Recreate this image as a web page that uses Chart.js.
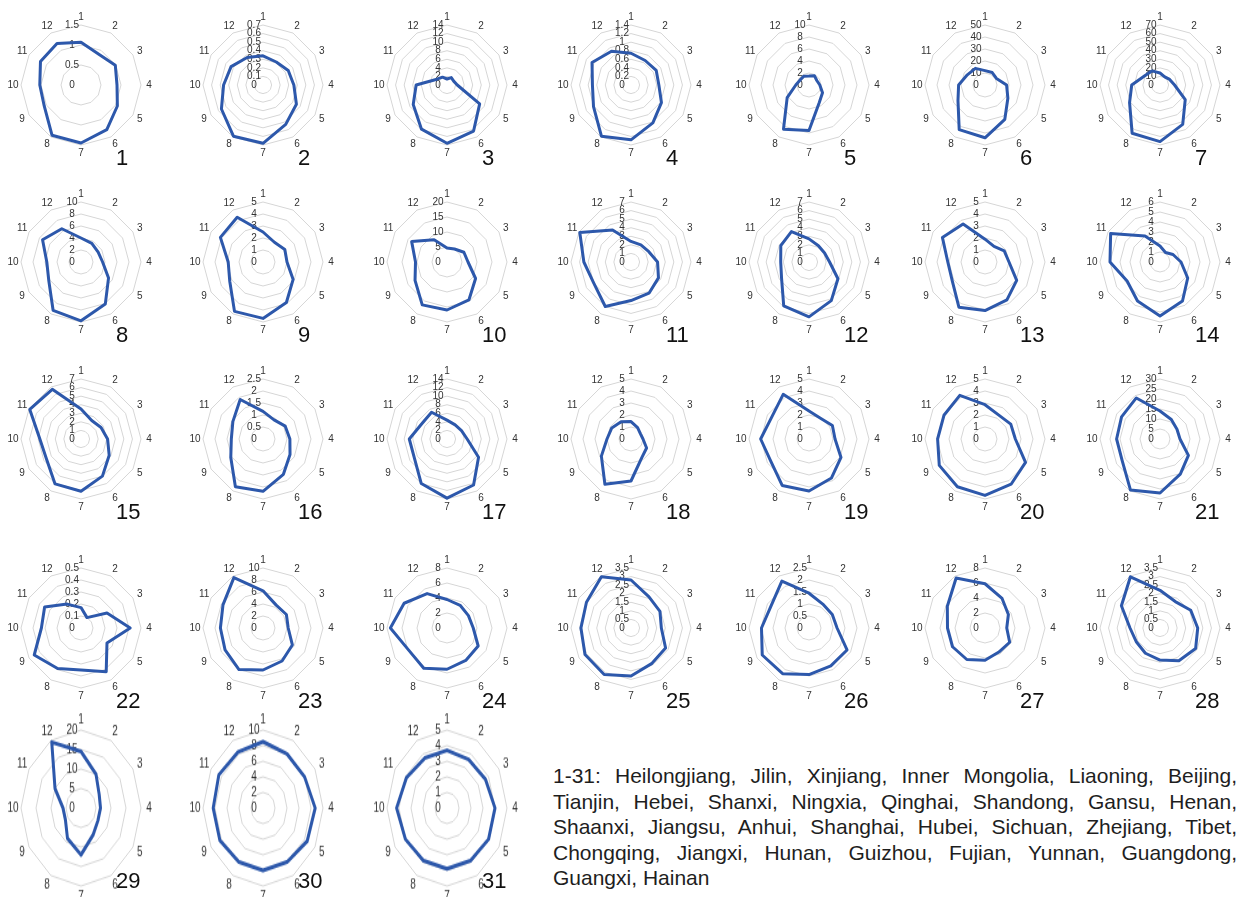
<!DOCTYPE html>
<html>
<head>
<meta charset="utf-8">
<script src="https://cdn.jsdelivr.net/npm/chart.js@4.4.1/dist/chart.umd.min.js"></script>
<style>
  html, body { margin: 0; padding: 0; background: #fff; }
  body { width: 1249px; height: 897px; position: relative; overflow: hidden;
         font-family: "Liberation Sans", Arial, sans-serif; }
  canvas.radar { position: absolute; }
  .num { position: absolute; font-size: 22px; line-height: 1; color: #111; }
  #names { position: absolute; left: 553px; top: 763px; width: 684px;
           font-size: 21px; line-height: 25.5px; color: #1e1e1e; text-align: justify; }
</style>
</head>
<body>
<div id="names"></div>
<script>
// Spoke labels (months 1-12)
const axisLabels = ['1','2','3','4','5','6','7','8','9','10','11','12'];

// Provinces in panel order 1-31
const provinceNames = ['Heilongjiang','Jilin','Xinjiang','Inner Mongolia','Liaoning','Beijing',
  'Tianjin','Hebei','Shanxi','Ningxia','Qinghai','Shandong','Gansu','Henan',
  'Shaanxi','Jiangsu','Anhui','Shanghai','Hubei','Sichuan','Zhejiang','Tibet',
  'Chongqing','Jiangxi','Hunan','Guizhou','Fujian','Yunnan','Guangdong',
  'Guangxi','Hainan'];

// Monthly values, one array per province
const heilongjiang  = [1.07, 0.89, 0.99, 0.90, 1.05, 1.29, 1.45, 1.45, 1.06, 1.03, 1.17, 1.20];
const jilin         = [0.34, 0.31, 0.34, 0.36, 0.45, 0.53, 0.68, 0.69, 0.56, 0.46, 0.43, 0.37];
const xinjiang      = [1.4, 2.0, 1.8, 2.4, 8.8, 12.4, 13.6, 11.9, 9.1, 7.2, 2.7, 2.1];
const innerMongolia = [0.74, 0.66, 0.68, 0.65, 0.82, 1.02, 1.28, 1.38, 1.01, 0.90, 1.05, 0.91];
const liaoning      = [1.5, 1.8, 1.5, 1.8, 2.6, 3.4, 7.6, 8.5, 4.2, 2.2, 1.7, 1.7];
const beijing       = [12, 12, 11, 18, 22, 33, 44, 43, 26, 22, 17, 16];
const tianjin       = [14, 11, 13, 17, 34, 53, 66, 65, 41, 33, 21, 19];
const hebei         = [4.0, 3.6, 3.3, 3.6, 5.3, 8.1, 9.8, 9.3, 6.2, 5.7, 7.4, 6.4];
const shanxi        = [2.5, 1.9, 2.1, 2.0, 2.9, 3.9, 4.7, 4.75, 3.2, 2.9, 4.1, 4.3];
const ningxia       = [4.7, 5.0, 6.5, 7.0, 11, 14.6, 16, 16.5, 12.3, 10.5, 13.6, 8.6];
const qinghai       = [2.4, 2.3, 2.4, 3.1, 3.7, 4.2, 4.5, 6.0, 5.0, 5.5, 6.9, 4.3];
const shandong      = [2.7, 2.2, 2.1, 2.4, 3.9, 5.2, 6.4, 5.9, 3.7, 3.3, 3.8, 4.1];
const gansu         = [1.9, 1.5, 1.85, 2.0, 3.05, 3.65, 4.05, 4.35, 3.15, 3.1, 4.1, 3.65];
const henan         = [1.6, 1.1, 1.5, 2.1, 3.2, 4.5, 5.4, 4.5, 3.8, 5.0, 5.7, 3.0];
const shaanxi       = [3.5, 2.5, 2.7, 3.1, 3.8, 5.0, 6.1, 6.05, 4.65, 4.8, 6.9, 6.7];
const jiangsu       = [1.15, 0.92, 1.07, 1.12, 1.3, 1.7, 2.18, 2.3, 1.55, 1.32, 1.45, 1.9];
const anhui         = [4.4, 3.8, 3.9, 4.7, 8.5, 12.4, 13.8, 12.0, 8.8, 8.8, 6.9, 7.2];
const shanghai      = [1.45, 1.1, 0.9, 1.0, 1.5, 1.8, 3.5, 4.35, 2.85, 2.0, 1.85, 1.65];
const hubei         = [2.33, 1.98, 2.25, 2.17, 3.08, 3.75, 4.33, 4.47, 3.68, 4.03, 3.6, 4.3];
const sichuan       = [2.86, 2.3, 2.48, 2.53, 3.9, 4.35, 4.7, 4.6, 4.4, 3.95, 3.95, 4.2];
const zhejiang      = [14, 11.3, 9.8, 10, 16.4, 20.3, 27, 29.5, 21.8, 21.7, 22.2, 23.7];
const tibet         = [0.17, 0.10, 0.25, 0.41, 0.25, 0.42, 0.35, 0.39, 0.45, 0.33, 0.35, 0.23];
const chongqing     = [6.2, 4.4, 4.5, 4.2, 5.65, 6.35, 7.0, 8.0, 7.3, 7.1, 7.7, 9.7];
const jiangxi       = [3.8, 3.5, 3.3, 3.5, 4.8, 5.0, 5.5, 6.2, 5.9, 7.55, 6.6, 5.3];
const hunan         = [2.8, 2.1, 1.95, 1.77, 2.33, 2.4, 2.8, 3.13, 3.1, 2.92, 3.0, 3.45];
const guizhou       = [1.45, 1.15, 1.12, 1.17, 1.83, 1.82, 1.94, 2.2, 2.25, 1.98, 1.83, 2.26];
const fujian        = [5.9, 4.55, 3.6, 2.9, 3.8, 3.7, 4.3, 4.85, 5.0, 5.0, 5.8, 7.7];
const yunnan        = [2.2, 1.78, 2.07, 2.2, 2.4, 2.2, 1.87, 1.7, 1.6, 1.75, 2.6, 3.45];
const guangdong     = [14.5, 10, 7, 6.5, 6.5, 8, 12, 9, 6, 6, 10, 19.5];
const guangxi       = [8.5, 8, 8, 8.7, 8.5, 8, 8, 8, 8.3, 8.3, 8.5, 8.3];
const hainan        = [3.7, 3.6, 3.7, 4.0, 4.0, 3.9, 3.9, 3.9, 4.0, 4.2, 3.9, 3.7];

const seriesValues = [heilongjiang, jilin, xinjiang, innerMongolia, liaoning, beijing,
  tianjin, hebei, shanxi, ningxia, qinghai, shandong, gansu, henan,
  shaanxi, jiangsu, anhui, shanghai, hubei, sichuan, zhejiang, tibet,
  chongqing, jiangxi, hunan, guizhou, fujian, yunnan, guangdong, guangxi, hainan];

// Radial axis range per panel: top tick and tick step
const scaleMax  = [1.5, 0.7, 14, 1.4, 10, 50, 70, 10, 5, 20, 7, 7, 5, 6,
                   7, 2.5, 14, 5, 5, 5, 30, 0.5, 10, 8, 3.5, 2.5, 8, 3.5, 20, 10, 5];
const scaleStep = [0.5, 0.1, 2, 0.2, 2, 10, 10, 2, 1, 5, 1, 1, 1, 1,
                   1, 0.5, 2, 1, 1, 1, 5, 0.1, 2, 2, 0.5, 0.5, 2, 0.5, 5, 2, 1];

// Panel grid layout
const columnX = [81, 263, 447, 631, 809, 985, 1160];
const rowY = [85, 262, 439, 628, 808];
const rowStretch = [1, 1, 1, 1, 1.3];
const CANVAS = 180, RADIUS = 60;

document.getElementById('names').textContent = '1-31: ' + provinceNames.join(', ');

const fmt = v => String(Math.round(v * 1000) / 1000);

// Draws the tick values beside the first spoke and the month labels around the rim
const radarText = {
  id: 'radarText',
  beforeDatasetsDraw(chart) {
    const s = chart.scales.r;
    const ctx = chart.ctx;
    ctx.save();
    ctx.font = '10px "Liberation Sans", Arial, sans-serif';
    ctx.fillStyle = '#333';
    ctx.textAlign = 'center';
    ctx.textBaseline = 'middle';
    s.ticks.forEach(t => {
      const d = s.getDistanceFromCenterForValue(t.value);
      ctx.fillText(fmt(t.value), s.xCenter - 9, s.yCenter - d);
    });
    chart.data.labels.forEach((lab, i) => {
      const p = s.getPointPosition(i, s.drawingArea + 8);
      ctx.fillText(lab, p.x, p.y);
    });
    ctx.restore();
  }
};

seriesValues.forEach((vals, k) => {
  const col = k % 7, row = Math.floor(k / 7);
  const cx = columnX[col], cy = rowY[row];
  const cv = document.createElement('canvas');
  cv.className = 'radar';
  cv.width = CANVAS; cv.height = CANVAS;
  cv.style.left = (cx - CANVAS / 2) + 'px';
  cv.style.top = (cy - CANVAS / 2) + 'px';
  if (rowStretch[row] !== 1) cv.style.transform = 'scaleY(' + rowStretch[row] + ')';
  document.body.appendChild(cv);

  new Chart(cv, {
    type: 'radar',
    data: {
      labels: axisLabels,
      datasets: [{
        data: vals,
        borderColor: '#2d58ab',
        borderWidth: 3,
        borderJoinStyle: 'round',
        fill: false,
        pointRadius: 0,
        tension: 0
      }]
    },
    options: {
      responsive: false,
      animation: false,
      devicePixelRatio: 1,
      layout: { padding: CANVAS / 2 - RADIUS },
      plugins: { legend: { display: false }, tooltip: { enabled: false } },
      scales: {
        r: {
          min: 0,
          max: scaleMax[k],
          beginAtZero: true,
          ticks: { display: false, stepSize: scaleStep[k] },
          pointLabels: { display: false },
          angleLines: { display: false },
          grid: { circular: false, color: '#d6d6d6', lineWidth: 1 }
        }
      }
    },
    plugins: [radarText]
  });

  const num = document.createElement('div');
  num.className = 'num';
  num.textContent = String(k + 1);
  num.style.left = (cx + 35) + 'px';
  num.style.top = (cy + 62) + 'px';
  document.body.appendChild(num);
});
</script>
</body>
</html>
